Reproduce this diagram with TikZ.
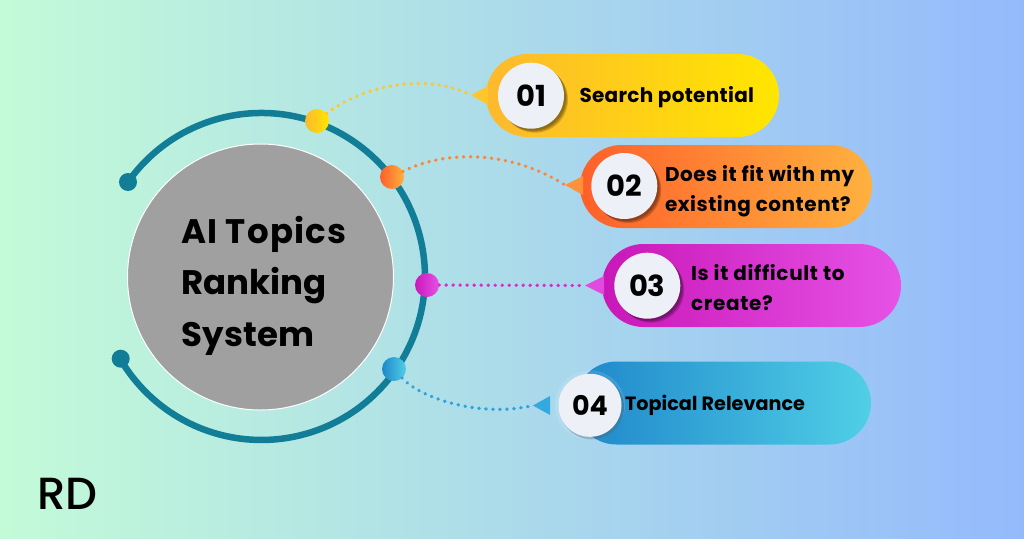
\documentclass[tikz,border=0pt]{standalone}
\usepackage{fontspec}
\setmainfont{Poppins}[BoldFont={Poppins Bold}]
\newfontfamily\logofont{Poppins Medium}
\usetikzlibrary{calc}
\definecolor{bgl}{HTML}{C3FBD8}
\definecolor{bgr}{HTML}{94BAFC}
\definecolor{ringc}{HTML}{127D96}
\definecolor{greyc}{HTML}{A0A0A0}
\definecolor{numc}{HTML}{EDF0F7}
\definecolor{aL}{HTML}{FDB92E}\definecolor{aR}{HTML}{FFE600}
\definecolor{bL}{HTML}{FF5F2A}\definecolor{bR}{HTML}{FFB13F}
\definecolor{cL}{HTML}{C917B8}\definecolor{cR}{HTML}{E653E6}
\definecolor{dL}{HTML}{1F87CB}\definecolor{dR}{HTML}{50CFE6}
\definecolor{dotA}{HTML}{FFC62E}
\definecolor{dotB}{HTML}{FF8436}
\definecolor{dotC}{HTML}{DB2CCB}
\definecolor{dotD}{HTML}{2EA2DE}
\tikzset{
  pill/.style={rectangle,rounded corners=41.5pt,minimum height=83pt,inner sep=0pt,outer sep=0pt},
  numdisc/.style={circle,fill=numc,inner sep=0pt,outer sep=0pt,minimum size=66pt,font=\bfseries\fontsize{29}{29}\selectfont,text=black},
  ringdot/.style={circle,inner sep=0pt,outer sep=0pt,minimum size=24pt},
  rdend/.style={circle,fill=ringc,inner sep=0pt,outer sep=0pt,minimum size=18pt},
  dotline/.style={line width=3.4pt,line cap=round,dash pattern=on 0.4pt off 6.6pt},
  ringline/.style={draw=ringc,line width=6.5pt},
  label/.style={anchor=base west,inner sep=0pt,outer sep=0pt,text=black,font=\bfseries\fontsize{20}{20}\selectfont},
  title/.style={anchor=base west,inner sep=0pt,outer sep=0pt,text=black,font=\bfseries\fontsize{34}{34}\selectfont}
}
\begin{document}
\begin{tikzpicture}[x=1pt,y=-1pt]
\useasboundingbox (0,0) rectangle (1024,538);
\path[left color=bgl,right color=bgr] (0,0) rectangle (1024,538);

% centre circle
\node[circle,fill=greyc,draw=white,line width=1pt,minimum size=266pt,inner sep=0pt] (hub) at (260.5,277) {};
\node[title] (t1) at (181,243) {\addfontfeature{LetterSpace=3.8}AI Topics};
\node[title] (t2) at (181,294) {Ranking};
\node[title] (t3) at (181,346) {\addfontfeature{LetterSpace=1}System};

% ring
\coordinate (ringA) at (128,182);
\coordinate (ringB) at (120.7,358.7);
\draw[ringline] (ringA) arc[start angle=144.7,end angle=-149.8,radius=163.5pt];
\node[rdend] (endA) at (ringA) {};
\node[rdend] (endB) at (ringB) {};

% pills
\node[pill,left color=aL,right color=aR,minimum width=293pt] (p1) at (632.5,95.5) {};
\node[pill,left color=bL,right color=bR,minimum width=292pt] (p2) at (726,186.5) {};
\node[pill,left color=cL,right color=cR,minimum width=299pt] (p3) at (751.5,285.5) {};
\node[pill,left color=dL,right color=dR,minimum width=296pt] (p4) at (723,403) {};

% pointers
\coordinate (tip1) at (471,95);
\coordinate (tip2) at (565,185);
\coordinate (tip3) at (585,285.5);
\coordinate (tip4) at (533,405.5);
\path[fill=dotA] (tip1) -- (488,86) -- (488,105) -- cycle;
\path[fill=dotB!70!bR] (tip2) -- (583,176) -- (583,195) -- cycle;
\path[fill=cR!85!cL] (tip3) -- (604,276) -- (604,295) -- cycle;
\path[fill=dotD!85!dR] (tip4) -- (550,396) -- (550,415) -- cycle;

% dots on the ring
\node[ringdot,left color=aL,right color=aR] (d1) at (317,121) {};
\node[ringdot,left color=bL,right color=bR] (d2) at (392,177) {};
\node[ringdot,left color=cL,right color=cR] (d3) at (427,285) {};
\node[ringdot,left color=dL,right color=dR] (d4) at (394,369) {};

% dotted connectors
\draw[dotline,draw=dotA] (d1) .. controls (362,86) and (425,72) .. (tip1);
\draw[dotline,draw=dotB] (d2) .. controls (445,150) and (510,150) .. (tip2);
\draw[dotline,draw=dotC] (d3) -- (tip3);
\draw[dotline,draw=dotD] (d4) .. controls (420,398) and (480,418) .. (tip4);

% number discs, with soft shadows
\foreach \x/\y in {531/95.7,624.3/186,647.3/285.7}{
  \foreach \o in {4,3,2}{
    \path[fill=black,opacity=0.17] (\x+\o,\y+\o) circle[radius=33pt];
  }
}
\path[fill=white,opacity=0.12] (590,405.3) circle[radius=35pt];
\path[fill=black,opacity=0.18] (592,407.5) circle[radius=32pt];
\node[numdisc] (n1) at (531,95.7) {01};
\node[numdisc] (n2) at (624.3,186) {02};
\node[numdisc] (n3) at (647.3,285.7) {03};
\node[numdisc,minimum size=63pt,font=\bfseries\fontsize{27}{27}\selectfont] (n4) at (590,405.3) {04};

% labels
\node[label] (l1) at (579.5,102) {\addfontfeature{LetterSpace=1.5}Search potential};
\node[label] (l2a) at (665,181) {\addfontfeature{LetterSpace=2.7}Does it fit with my};
\node[label] (l2b) at (665,211) {\addfontfeature{LetterSpace=2.7}existing content?};
\node[label] (l3a) at (691,280.5) {\addfontfeature{LetterSpace=3.4}Is it difficult to};
\node[label] (l3b) at (691,310.5) {\addfontfeature{LetterSpace=3.4}create?};
\node[label,font=\bfseries\fontsize{19.2}{19.2}\selectfont] (l4) at (625,410) {Topical Relevance};

% logo
\node[anchor=base west,inner sep=0pt,text=black,font=\logofont\fontsize{45}{45}\selectfont] (logo) at (37,509) {RD};
\end{tikzpicture}
\end{document}
